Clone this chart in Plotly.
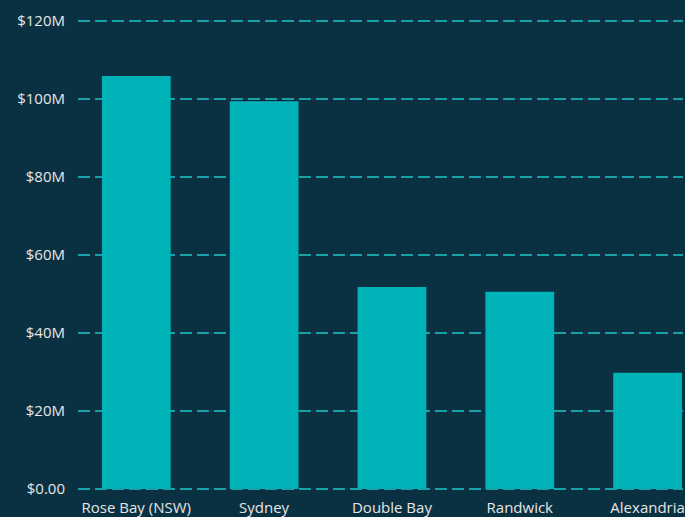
import plotly.graph_objects as go

suburbs = ["Rose Bay (NSW)", "Sydney", "Double Bay", "Randwick", "Alexandria"]
values = [105.9e6, 99.4e6, 51.8e6, 50.6e6, 29.8e6]
tick_vals = [0, 20e6, 40e6, 60e6, 80e6, 100e6, 120e6]
tick_text = ["$0.00", "$20M", "$40M", "$60M", "$80M", "$100M", "$120M"]

bg = "#0a3142"
bar_color = "#00b3b8"
grid_color = "#17a2aa"
font_color = "#e6e6e6"

fig = go.Figure(go.Bar(x=suburbs, y=values, marker=dict(color=bar_color, line=dict(width=0)), width=0.538))

fig.update_layout(
    width=685, height=517,
    paper_bgcolor=bg, plot_bgcolor=bg,
    margin=dict(l=78, r=0, t=17, b=24),
    font=dict(family="Open Sans", size=15, color=font_color),
    showlegend=False,
)
fig.update_xaxes(
    range=[-0.456, 4.277], showgrid=False, zeroline=False, showline=False,
    ticks="outside", ticklen=1, tickcolor="rgba(0,0,0,0)",
    tickfont=dict(size=15, color=font_color),
)
fig.update_yaxes(
    range=[-1e6, 121e6], tickvals=tick_vals, ticktext=tick_text,
    showgrid=True, gridcolor=grid_color, gridwidth=1.5, griddash="12px,5px",
    zeroline=False, showline=False,
    ticks="outside", ticklen=9, tickcolor="rgba(0,0,0,0)",
    tickfont=dict(size=15, color=font_color),
)
# zero baseline dashes drawn over the bars
fig.add_shape(type="line", xref="paper", x0=0, x1=1, yref="y", y0=0, y1=0,
              line=dict(color=grid_color, width=1.5, dash="12px,5px"), layer="above")

fig.write_html("out.html", config={"displayModeBar": False},
               post_script="document.body.style.margin='0';")
